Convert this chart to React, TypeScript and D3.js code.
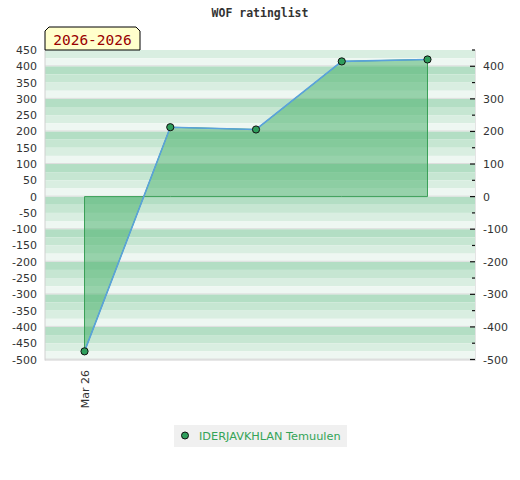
import React from "react";
import * as d3 from "d3";

const title = "WOF ratinglist";
const periodLabel = "2026-2026";
const seriesName = "IDERJAVKHLAN Temuulen";
const xIndex = [0, 1, 2, 3, 4];
const ratings = [-475, 213, 206, 415, 421];
const xTickIndex = [0];
const xTickLabels = ["Mar 26"];
const leftTicks = d3.range(-500, 451, 50);
const rightMajorTicks = d3.range(-500, 401, 100);
const rightMinorTicks = d3.range(-450, 451, 100);
const stripeColors = ["#b3dec4", "#c6e6d2", "#d9eee1", "#eef7f2"];

const W = 520, H = 480;
const left = 45, right = 475, top = 50, bottom = 359.5;

export default function App() {
  const y = d3.scaleLinear().domain([-500, 450]).range([bottom, top]);
  const x = d3.scaleLinear().domain([-0.461, 4.554]).range([left, right]);

  const stripes: { y0: number; y1: number; c: string }[] = [];
  for (let v = 450; v > -500; v -= 25) {
    const lower = v - 25;
    const q = ((Math.round((Math.ceil(v / 100) * 100 - v) / 25) % 4) + 4) % 4;
    stripes.push({ y0: y(v), y1: y(lower), c: stripeColors[q] });
  }

  const pts = xIndex.map((i, k) => [x(i), y(ratings[k])] as [number, number]);
  const line = d3.line<[number, number]>()(pts) || "";
  const area =
    d3
      .area<number>()
      .x((_, k) => x(xIndex[k]))
      .y0(y(0))
      .y1((d) => y(d))(ratings) || "";

  return (
    <svg
      width={W}
      height={H}
      style={{ position: "absolute", left: 0, top: 0, background: "#fff" }}
      fontFamily="DejaVu Sans, sans-serif"
    >
      <text
        x={260}
        y={17}
        textAnchor="middle"
        fontFamily="DejaVu Sans Mono, monospace"
        fontWeight="bold"
        fontSize={11.5}
        fill="#333"
      >
        {title}
      </text>

      {stripes.map((s, i) => (
        <rect key={i} x={left} y={s.y0} width={right - left} height={s.y1 - s.y0} fill={s.c} />
      ))}
      {rightMajorTicks.map((v) => (
        <line key={"g" + v} x1={left} x2={right} y1={y(v) - 0.5} y2={y(v) - 0.5} stroke="#dedede" strokeWidth={1} />
      ))}

      <path d={area} fill="#46b069" fillOpacity={0.52} stroke="#3a9f58" strokeWidth={1} />
      <path d={line} fill="none" stroke="#5aa2dc" strokeWidth={1.6} />
      {pts.map((p, i) => (
        <circle key={i} cx={p[0]} cy={p[1]} r={3.6} fill="#2f9e5c" stroke="#111" strokeWidth={1} />
      ))}

      <line x1={left} x2={left} y1={top} y2={bottom + 1} stroke="#d0d0d0" />
      <line x1={left} x2={right + 1} y1={bottom + 0.5} y2={bottom + 0.5} stroke="#d0d0d0" />
      <line x1={right + 0.5} x2={right + 0.5} y1={top} y2={bottom + 1} stroke="#e4e4e4" />

      {leftTicks.map((v) => (
        <text key={"l" + v} x={37} y={y(v) + 4} textAnchor="end" fontSize={11} fill="#333">
          {v}
        </text>
      ))}
      {rightMajorTicks.map((v) => (
        <g key={"r" + v}>
          <line x1={right - 5} x2={right} y1={y(v)} y2={y(v)} stroke="#111" strokeWidth={1.2} />
          <text x={483} y={y(v) + 4} fontSize={11} fill="#333">
            {v}
          </text>
        </g>
      ))}
      {rightMinorTicks.map((v) => (
        <line key={"m" + v} x1={right - 3} x2={right} y1={y(v)} y2={y(v)} stroke="#111" strokeWidth={1.2} />
      ))}

      {xTickIndex.map((i, k) => (
        <text
          key={"x" + i}
          transform={`translate(${x(i) + 4},370) rotate(-90)`}
          textAnchor="end"
          fontSize={11}
          fill="#333"
        >
          {xTickLabels[k]}
        </text>
      ))}

      <path
        d={`M45,50 L45,31 L49,27 L136,27 L140,31 L140,50 Z`}
        fill="#ffffcc"
        stroke="#000"
        strokeWidth={1}
      />
      <text
        x={92.5}
        y={45}
        textAnchor="middle"
        fontFamily="DejaVu Sans Mono, monospace"
        fontSize={14.5}
        fill="#990000"
      >
        {periodLabel}
      </text>

      <rect x={174} y={425} width={173} height={22} fill="#f0f0f0" />
      <circle cx={185} cy={435.5} r={3.5} fill="#2f9e5c" stroke="#111" strokeWidth={1} />
      <text x={199} y={440} fontSize={11.3} fill="#33a457">
        {seriesName}
      </text>
    </svg>
  );
}
